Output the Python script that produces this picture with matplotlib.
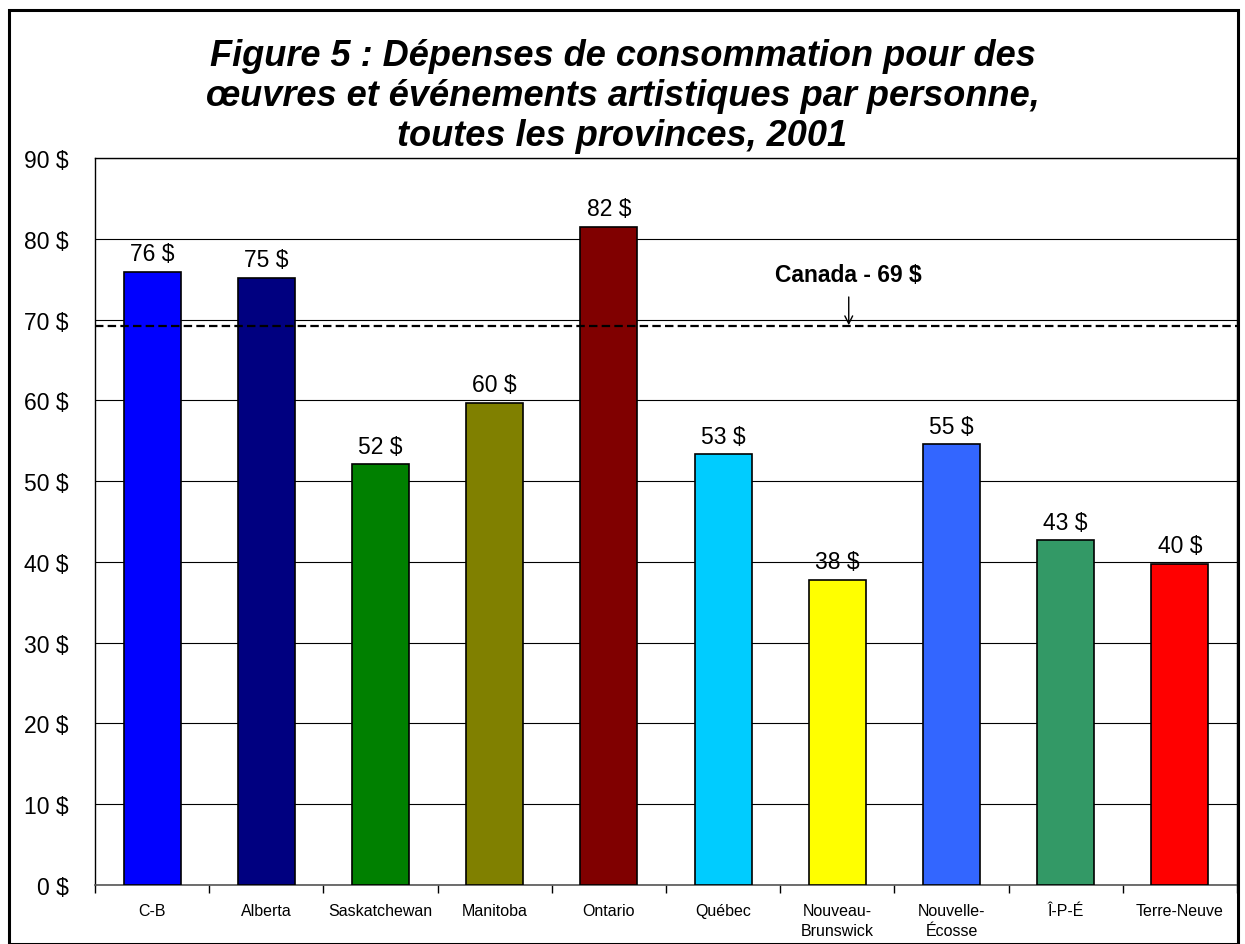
import matplotlib
matplotlib.use("Agg")
import matplotlib.pyplot as plt
from matplotlib.patches import Rectangle
import numpy as np

plt.rcParams['font.family'] = ['Liberation Sans', 'DejaVu Sans']

categories = ["C-B", "Alberta", "Saskatchewan", "Manitoba", "Ontario", "Québec",
              "Nouveau-\nBrunswick", "Nouvelle-\nÉcosse", "Î-P-É", "Terre-Neuve"]
values = [75.9, 75.2, 52.1, 59.7, 81.5, 53.3, 37.8, 54.6, 42.7, 39.8]
value_labels = ["76 $", "75 $", "52 $", "60 $", "82 $", "53 $", "38 $", "55 $", "43 $", "40 $"]
colors = ["#0000FF", "#000080", "#008000", "#808000", "#800000", "#00CCFF",
          "#FFFF00", "#3366FF", "#339966", "#FF0000"]
canada_avg = 69.2
canada_label = "Canada - 69 $"
yticks = list(range(0, 100, 10))
title = ("Figure 5 : Dépenses de consommation pour des\n"
         "œuvres et événements artistiques par personne,\n"
         "toutes les provinces, 2001")

fig = plt.figure(figsize=(12.45, 9.45), dpi=100)
fig.patches.append(Rectangle((0.007, 0.0), 0.987, 0.988, transform=fig.transFigure,
                             fill=False, edgecolor='black', linewidth=2.2, zorder=10))

ax = fig.add_axes([0.0763, 0.0624, 0.9173, 0.7693])
x = np.arange(len(categories))
ax.bar(x, values, width=0.5, color=colors, edgecolor='black', linewidth=1.2, zorder=3)
for xi, v, lab in zip(x, values, value_labels):
    ax.text(xi, v + 0.8, lab, ha='center', va='bottom', fontsize=16.5)

ax.set_xlim(-0.5, len(categories) - 0.5)
ax.set_ylim(0, 90)
ax.set_yticks(yticks)
ax.set_yticklabels([f"{t} $" for t in yticks], fontsize=16.5)
ax.tick_params(axis='y', length=0, pad=19)
ax.set_xticks(x)
ax.set_xticklabels(categories, fontsize=11.5, linespacing=1.4)
ax.tick_params(axis='x', length=0, pad=13)
ax.set_xticks(np.arange(-0.5, len(categories), 1.0), minor=True)
ax.tick_params(axis='x', which='minor', length=6, width=1, direction='out', color='black')
ax.yaxis.grid(True, color='black', linewidth=0.8, zorder=0)
ax.set_axisbelow(True)
for s in ['left', 'top', 'right']:
    ax.spines[s].set_color('black')
    ax.spines[s].set_linewidth(1.0)
ax.spines['bottom'].set_color('#555555')
ax.spines['bottom'].set_linewidth(1.2)

ax.axhline(canada_avg, color='black', linestyle=(0, (3.8, 1.9)), linewidth=1.6, zorder=4)
ax.annotate('', xy=(6.1, canada_avg + 0.1), xytext=(6.1, 72.8),
            arrowprops=dict(arrowstyle='->', color='black', lw=1.0, shrinkA=0, shrinkB=0,
                            mutation_scale=14))
ax.text(6.1, 75.6, canada_label, ha='center', va='center', fontsize=16.5, fontweight='bold')

fig.text(0.5, 0.898, title, ha='center', va='center', fontsize=26, fontweight='bold',
         style='italic', linespacing=1.18)

fig.savefig("out.png", dpi=100)
